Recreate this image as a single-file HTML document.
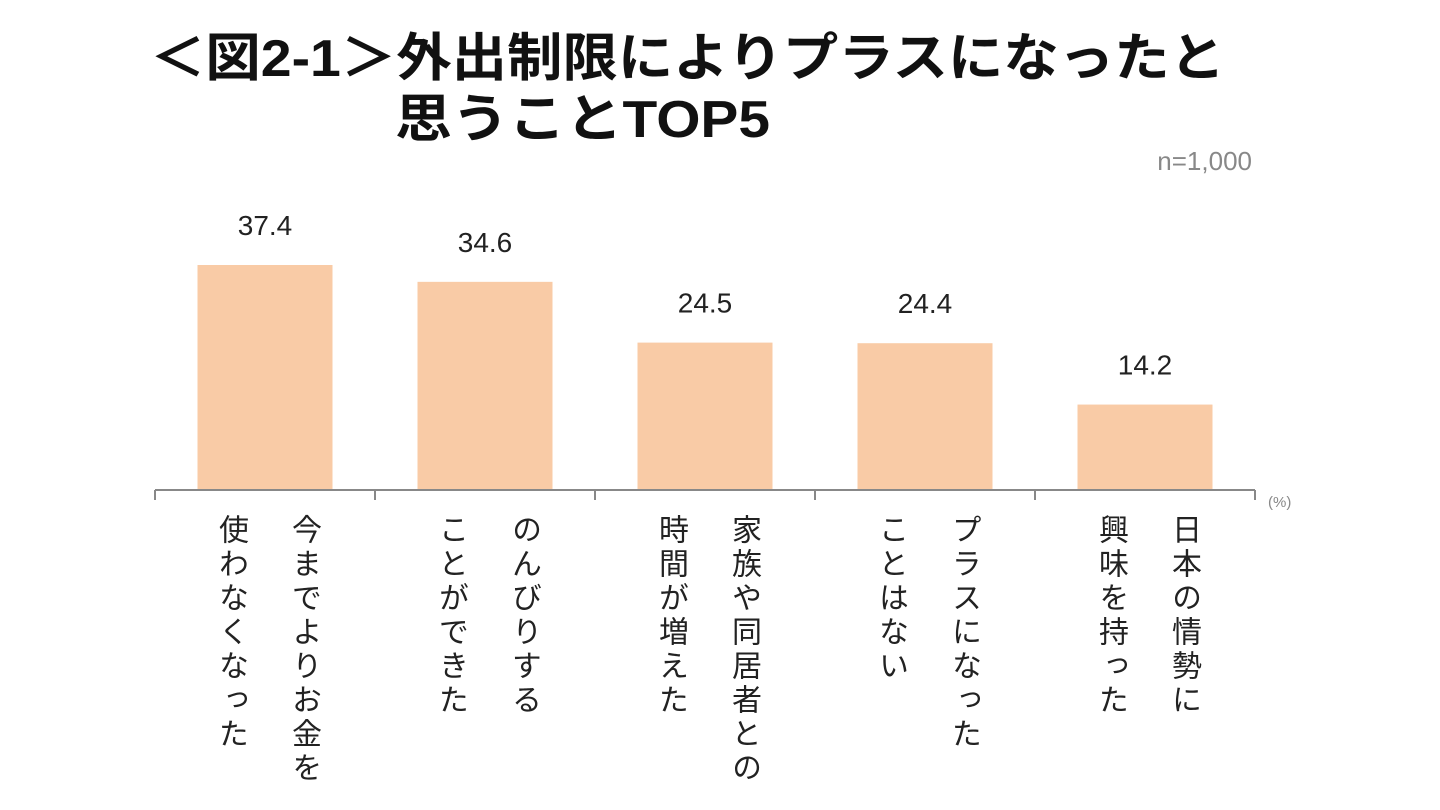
<!DOCTYPE html>
<html><head><meta charset="utf-8">
<style>
html,body{margin:0;padding:0;background:#fff;}
#wrap{position:relative;width:1440px;height:810px;overflow:hidden;font-family:"Liberation Sans","Noto Sans CJK JP",sans-serif;}
.vt{position:absolute;writing-mode:vertical-rl;font-size:30px;letter-spacing:4px;color:#222;line-height:1;font-family:"Liberation Sans","Noto Sans CJK JP",sans-serif;}
</style></head>
<body>
<div id="wrap">
<svg id="chart" width="1440" height="810" style="position:absolute;left:0;top:0">
  <text x="150" y="76" font-size="52" font-weight="bold" fill="#111" textLength="1075" lengthAdjust="spacingAndGlyphs" font-family="Liberation Sans, Noto Sans CJK JP, sans-serif">＜図2-1＞外出制限によりプラスになったと</text>
  <text x="395" y="137" font-size="52" font-weight="bold" fill="#111" textLength="375" lengthAdjust="spacingAndGlyphs" font-family="Liberation Sans, Noto Sans CJK JP, sans-serif">思うことTOP5</text>
  <text x="1252" y="170" font-size="26" fill="#888" text-anchor="end" font-family="Liberation Sans, sans-serif">n=1,000</text>
  <text x="1268" y="507" font-size="15" fill="#888" font-family="Liberation Sans, sans-serif">(%)</text>
  <g id="bars"></g>
</svg>
</div>
<script>
const categoriesLine1 = ["今までよりお金を","のんびりする","家族や同居者との","プラスになった","日本の情勢に"];
const categoriesLine2 = ["使わなくなった","ことができた","時間が増えた","ことはない","興味を持った"];
const values = [37.4, 34.6, 24.5, 24.4, 14.2];
const valueLabels = ["37.4","34.6","24.5","24.4","14.2"];

const NS="http://www.w3.org/2000/svg";
const x0=155, catW=220, baseY=490, pxPerUnit=225/37.4, barW=135;
const xCenter=i=>x0+catW*i+catW/2;
const y=v=>baseY-v*pxPerUnit;
const g=document.getElementById('bars');
const wrap=document.getElementById('wrap');

values.forEach((v,i)=>{
  const r=document.createElementNS(NS,'rect');
  r.setAttribute('x',xCenter(i)-barW/2);
  r.setAttribute('y',y(v));
  r.setAttribute('width',barW);
  r.setAttribute('height',baseY-y(v));
  r.setAttribute('fill','#F9CBA6');
  
  
  g.appendChild(r);
  const t=document.createElementNS(NS,'text');
  t.setAttribute('x',xCenter(i));
  t.setAttribute('y',y(v)-30);
  t.setAttribute('text-anchor','middle');
  t.setAttribute('font-size','28');
  t.setAttribute('fill','#222');
  t.setAttribute('font-family','Liberation Sans, sans-serif');
  t.textContent=valueLabels[i];
  
  
  g.appendChild(t);
  const d1=document.createElement('div');
  d1.className='vt';
  d1.style.left=(xCenter(i)+38-15)+'px';
  d1.style.top='514px';
  d1.textContent=categoriesLine1[i];
  
  
  wrap.appendChild(d1);
  const d2=document.createElement('div');
  d2.className='vt';
  d2.style.left=(xCenter(i)-35-15)+'px';
  d2.style.top='514px';
  d2.textContent=categoriesLine2[i];
  
  
  wrap.appendChild(d2);
});
const ax=document.createElementNS(NS,'line');
ax.setAttribute('x1',x0);ax.setAttribute('x2',x0+catW*values.length);
ax.setAttribute('y1',baseY);ax.setAttribute('y2',baseY);
ax.setAttribute('stroke','#888');ax.setAttribute('stroke-width','2');


g.appendChild(ax);
for(let i=0;i<=values.length;i++){
  const tk=document.createElementNS(NS,'line');
  tk.setAttribute('x1',x0+catW*i);tk.setAttribute('x2',x0+catW*i);
  tk.setAttribute('y1',baseY);tk.setAttribute('y2',baseY+10);
  tk.setAttribute('stroke','#888');tk.setAttribute('stroke-width','2');
  
  
  g.appendChild(tk);
}
</script>
</body></html>
